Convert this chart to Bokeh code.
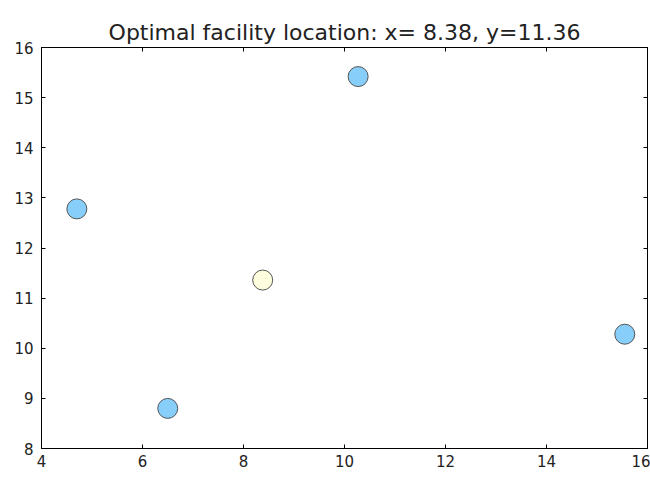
from bokeh.plotting import figure
from bokeh.models import LinearAxis, FixedTicker, Range1d, ColumnDataSource
from bokeh.embed import file_html
from bokeh.resources import INLINE

# data
site_x = [4.7, 6.5, 10.27, 15.55]
site_y = [12.78, 8.8, 15.42, 10.28]
opt_x = [8.38]
opt_y = [11.36]
x_ticks = [4, 6, 8, 10, 12, 14, 16]
y_ticks = [8, 9, 10, 11, 12, 13, 14, 15, 16]

FONT = "DejaVu Sans"

p = figure(width=650, height=484, output_backend="svg", toolbar_location=None,
           x_range=Range1d(4, 16), y_range=Range1d(8, 16),
           x_axis_location=None, y_axis_location=None,
           min_border_left=41, min_border_right=3, min_border_top=47, min_border_bottom=36,
           title="Optimal facility location: x= 8.38, y=11.36")
p.title.align = "center"
p.title.text_font = FONT
p.title.text_font_style = "normal"
p.title.text_font_size = "22px"
p.title.text_color = "#222222"
p.title.standoff = 5

p.xgrid.visible = False
p.ygrid.visible = False
p.outline_line_color = "black"
p.outline_line_width = 1
p.background_fill_color = "white"
p.border_fill_color = "white"


def style_axis(ax, ticks, standoff, labels=True):
    ax.ticker = FixedTicker(ticks=ticks)
    ax.major_tick_in = 4
    ax.major_tick_out = 0
    ax.minor_tick_in = 0
    ax.minor_tick_out = 0
    ax.axis_line_color = "black"
    ax.major_tick_line_color = "black"
    ax.major_label_text_font = FONT
    ax.major_label_text_font_size = "15px"
    ax.major_label_text_color = "#222222"
    ax.major_label_standoff = standoff
    if not labels:
        ax.major_label_text_font_size = "0px"
        ax.major_label_text_alpha = 0


ax_b = LinearAxis()
p.add_layout(ax_b, "below")
style_axis(ax_b, x_ticks, 6)
ax_l = LinearAxis()
p.add_layout(ax_l, "left")
style_axis(ax_l, y_ticks, 8)
ax_t = LinearAxis()
p.add_layout(ax_t, "above")
style_axis(ax_t, x_ticks, 0, labels=False)
ax_r = LinearAxis()
p.add_layout(ax_r, "right")
style_axis(ax_r, y_ticks, 0, labels=False)

sites = ColumnDataSource(dict(x=site_x, y=site_y))
opt = ColumnDataSource(dict(x=opt_x, y=opt_y))
p.scatter("x", "y", source=sites, size=20, fill_color="#87CEFA",
          line_color="#555555", line_width=1)
p.scatter("x", "y", source=opt, size=20, fill_color="#FFFFE0",
          line_color="#555555", line_width=1)

open("out.html", "w").write(file_html(p, INLINE))
